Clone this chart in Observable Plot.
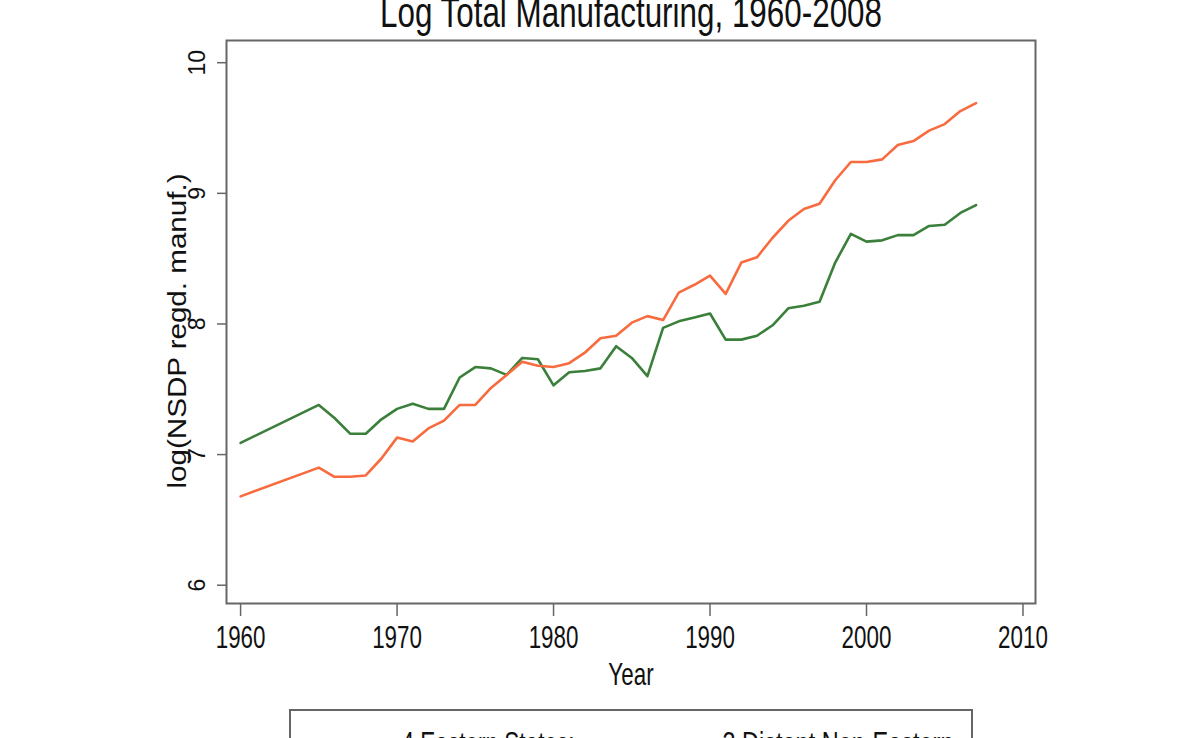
<!DOCTYPE html>
<html>
<head>
<meta charset="utf-8">
<script src="https://cdn.jsdelivr.net/npm/d3@7"></script>
<script src="https://cdn.jsdelivr.net/npm/@observablehq/plot@0.6"></script>
<style>
  html, body { margin: 0; padding: 0; background: #fff; overflow: hidden; width: 1200px; height: 738px; }
  #wrap { position: relative; width: 1200px; height: 738px; overflow: hidden; }
  #chart { position: absolute; left: 0; top: 0; }
  .htext { position: absolute; white-space: nowrap; font-family: "Liberation Sans", Arial, sans-serif; color: #111; }
  #title { left: 631px; top: -8px; font-size: 42px; line-height: 42px; }
  #legend { position: absolute; left: 289px; top: 709px; width: 684px; height: 90px; border: 2px solid #666;
            box-sizing: border-box; background: #fff; }
  .leg { top: 727px; font-size: 32px; line-height: 32px; }
</style>
</head>
<body>
<div id="wrap">
  <div id="chart"></div>
  <div id="legend"></div>
  <div class="htext" id="title"></div>
  <div class="htext leg" id="leg1" style="left:488px"></div>
  <div class="htext leg" id="leg2" style="left:838px"></div>
</div>
<script>
const titleText = "Log Total Manufacturing, 1960-2008";
const xLabel = "Year";
const yLabel = "log(NSDP regd. manuf.)";
const seriesNames = ["4 Eastern States:", "3 Distant Non-Eastern"];
const seriesColors = ["#3a7f3a", "#f86b3f"];

const years = [1960, 1965, 1966, 1967, 1968, 1969, 1970, 1971, 1972, 1973, 1974, 1975, 1976, 1977, 1978, 1979,
  1980, 1981, 1982, 1983, 1984, 1985, 1986, 1987, 1988, 1989, 1990, 1991, 1992, 1993, 1994, 1995, 1996, 1997,
  1998, 1999, 2000, 2001, 2002, 2003, 2004, 2005, 2006, 2007];

const eastern = [7.09, 7.38, 7.28, 7.16, 7.16, 7.27, 7.35, 7.39, 7.35, 7.35, 7.59, 7.67, 7.66, 7.61, 7.74, 7.73,
  7.53, 7.63, 7.64, 7.66, 7.83, 7.74, 7.60, 7.97, 8.02, 8.05, 8.08, 7.88, 7.88, 7.91, 7.99, 8.12, 8.14, 8.17,
  8.47, 8.69, 8.63, 8.64, 8.68, 8.68, 8.75, 8.76, 8.85, 8.91];

const distant = [6.68, 6.90, 6.83, 6.83, 6.84, 6.97, 7.13, 7.10, 7.20, 7.26, 7.38, 7.38, 7.51, 7.61, 7.71, 7.68,
  7.67, 7.70, 7.78, 7.89, 7.91, 8.01, 8.06, 8.03, 8.24, 8.30, 8.37, 8.23, 8.47, 8.51, 8.66, 8.79, 8.88, 8.92,
  9.10, 9.24, 9.24, 9.26, 9.37, 9.40, 9.48, 9.53, 9.63, 9.69];

const xTicks = [1960, 1970, 1980, 1990, 2000, 2010];
const yTicks = [6, 7, 8, 9, 10];

const rows = [];
years.forEach((yr, i) => {
  rows.push({year: yr, value: eastern[i], series: seriesNames[0]});
  rows.push({year: yr, value: distant[i], series: seriesNames[1]});
});

const font = '"Liberation Sans", Arial, sans-serif';

const chart = Plot.plot({
  width: 1200,
  height: 738,
  marginLeft: 226,
  marginRight: 165,
  marginTop: 40,
  marginBottom: 135,
  style: {background: "#fff", color: "#111", fontFamily: font},
  x: {domain: [1959.1, 2010.8]},
  y: {domain: [5.86, 10.17]},
  color: {domain: seriesNames, range: seriesColors},
  marks: [
    Plot.axisX({ticks: xTicks, tickSize: 13, tickPadding: 9, tickFormat: d => String(d), label: null,
      fontSize: 32, className: "narrow", stroke: "#666", strokeWidth: 1.5}),
    Plot.axisY({ticks: yTicks, tickSize: 9, tickFormat: () => "", label: null, stroke: "#666", strokeWidth: 1.5}),
    Plot.text(yTicks, {y: d => d, text: d => String(d), frameAnchor: "left", textAnchor: "middle",
      dx: -29, rotate: -90, fontSize: 23, fill: "#111"}),
    Plot.text([yLabel], {text: d => d, frameAnchor: "left", textAnchor: "middle", dx: -49, dy: 9, rotate: -90,
      fontSize: 26, fill: "#111", className: "ylab"}),
    Plot.text([xLabel], {text: d => d, frameAnchor: "bottom", dy: 81, fontSize: 32, fill: "#111", className: "narrow"}),
    Plot.line(rows, {x: "year", y: "value", stroke: "series", z: "series", strokeWidth: 2.6}),
    Plot.frame({stroke: "#666", strokeWidth: 2})
  ]
});
document.getElementById("chart").appendChild(chart);

// condensed look of horizontal text
const ratio = 0.70;
chart.querySelectorAll(".narrow text").forEach(t => {
  const len = t.getComputedTextLength();
  t.setAttribute("textLength", (len * ratio).toFixed(1));
  t.setAttribute("lengthAdjust", "spacingAndGlyphs");
});
chart.querySelectorAll(".ylab text").forEach(t => {
  t.setAttribute("textLength", "315");
  t.setAttribute("lengthAdjust", "spacingAndGlyphs");
});

function placeCondensed(id, text, targetWidth) {
  const el = document.getElementById(id);
  el.textContent = text;
  const w = el.getBoundingClientRect().width;
  el.style.transformOrigin = "0 0";
  el.style.transform = `translateX(${-targetWidth / 2}px) scaleX(${targetWidth / w})`;
}
placeCondensed("title", titleText, 502);
placeCondensed("leg1", seriesNames[0], 173);
placeCondensed("leg2", seriesNames[1], 231);
</script>
</body>
</html>
